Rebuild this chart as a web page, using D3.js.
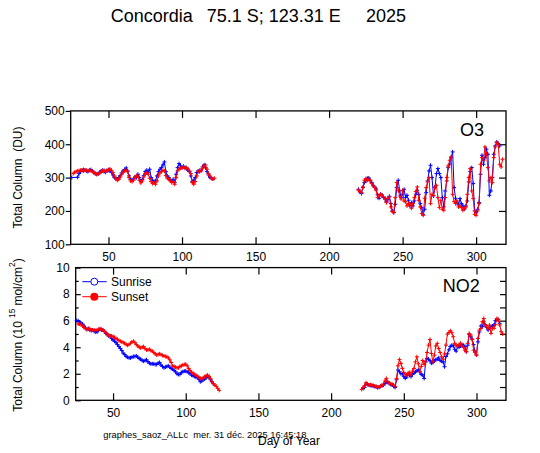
<!DOCTYPE html>
<html>
<head>
<meta charset="utf-8">
<script src="https://cdn.jsdelivr.net/npm/d3@7"></script>
<style>
body { margin: 0; background: #fff; }
text { font-family: Arial, "Liberation Sans", sans-serif; fill: #000; }
</style>
</head>
<body>
<script>
var w = 540;
var h = 453;
var svg;

//-----data------
var xTicks = [50, 100, 150, 200, 250, 300];
var o3Ticks = [100, 200, 300, 400, 500];
var no2Ticks = [0, 2, 4, 6, 8, 10];

var leftDays = [25,26,27,28,29, 30,31,32,33,34, 35,36,37,38,39, 40,41,42,43,44, 45,46,47,48,49,
    50,51,52,53,54, 55,56,57,58,59, 60,61,62,63,64, 65,66,67,68,69, 70,71,72,73,74,
    75,76,77,78,79, 80,81,82,83,84, 85,86,87,88,89, 90,91,92,93,94, 95,96,97,98,99,
    100,101,102,103,104, 105,106,107,108,109, 110,111,112,113,114, 115,116,117,118,119, 120,121,122,123];

var rightDays = [220,221,222,223,224, 225,226,227,228,229, 230,231,232,233,234, 235,236,237,238,239,
    240,241,242,243,244, 245,246,247,248,249, 250,251,252,253,254, 255,256,257,258,259,
    260,261,262,263,264, 265,266,267,268,269, 270,271,272,273,274, 275,276,277,278,279,
    280,281,282,283,284, 285,286,287,288,289, 290,291,292,293,294, 295,296,297,298,299,
    300,301,302,303,304, 305,306,307,308,309, 310,311,312,313,314, 315,316,317,318];

var o3SunriseLeft = [300,null,null,null,301, 312,318,322,324,322, 320,318,322,324,320, 315,312,310,312,316,
    320,322,318,316,322, 322,320,316,308,300, 298,295,300,306,314, 320,324,329,320,305,
    295,292,296,302,300, 310,300,290,294,306, 318,322,316,325,300, 292,288,290,305,318,
    325,330,338,347,318, 305,300,292,290,295, 286,310,330,342,335, 330,334,330,328,322,
    318,305,288,292,300, 315,320,318,322,332, 338,330,318,308,300, 298,296,null,null];

var o3SunsetLeft = [null,312,316,318,320, 321,322,322,320,323, 322,320,322,321,318, 316,312,310,311,313,
    318,320,322,318,320, 324,326,322,315,305, 296,292,295,302,310, 316,320,322,318,300,
    290,288,292,300,306, 304,292,284,290,302, 312,314,310,298,288, 282,284,280,290,305,
    314,318,322,320,306, 298,296,290,285,288, 280,300,320,326,328, 330,332,328,330,326,
    320,312,285,280,288, 305,318,322,320,328, 335,338,325,312,305, 298,296,298,null];

var o3SunriseRight = [265,257,252,270,285, 290,298,299,292,285, 277,272,266,248,238, 250,248,240,238,228,
    235,244,222,200,195, 220,270,292,260,240, 250,265,240,247,232, 215,225,215,230,250,
    262,250,222,210,190, 205,255,290,320,337, 300,245,270,312,327, 312,300,240,212,260,
    290,330,340,360,377, 270,238,225,218,237, 222,215,205,215,230, 287,318,330,282,200,
    195,205,225,310,367, 340,360,385,370,247, 260,300,370,395,407, 402,395,null,null];

var o3SunsetRight = [262,258,255,272,292, 297,292,295,290,282, 275,270,262,240,246, 250,246,242,236,225,
    238,242,212,198,196, 240,285,262,245,236, 262,230,228,215,222, 220,208,222,240,258,
    272,232,212,192,187, 238,270,287,300,222, 250,246,272,276,240, 210,232,205,202,240,
    300,335,352,362,250, 228,222,230,212,215, 210,202,208,212,250, 300,327,260,237,190,
    187,200,222,340,360, 352,392,370,330,290, 300,285,360,392,405, 400,340,332,355];

var no2SunriseLeft = [6.0,6.0,5.9,5.8,5.75, 5.6,5.45,5.35,5.4,5.3, 5.25,5.3,5.2,5.15,5.15, 5.3,5.35,5.3,5.3,5.2,
    5.05,4.95,4.85,4.85,4.65, 4.55,4.45,4.35,4.2,4.05, 3.9,3.75,3.55,3.45,3.3, 3.25,3.2,3.2,3.25,3.3,
    3.3,3.35,3.25,3.15,3.1, 3.0,2.95,3.0,3.05,2.9, 2.8,2.75,2.75,2.75,2.7, 2.7,2.8,2.85,2.65,2.55,
    2.45,2.5,2.55,2.6,2.5, 2.4,2.35,2.25,2.15,2.0, 1.95,1.95,2.1,2.15,2.2, 2.2,2.15,2.1,2.0,1.9,
    1.85,1.8,1.75,1.7,1.6, 1.4,1.45,1.55,1.6,1.7, 1.8,1.75,1.55,1.4,1.25, null,null,null,null];

var no2SunsetLeft = [null,5.75,5.75,5.7,5.6, 5.5,5.4,5.35,5.4,5.4, 5.3,5.3,5.3,5.25,5.3, 5.35,5.4,5.35,5.3,5.2,
    5.1,5.0,4.9,4.85,4.85, 4.8,4.75,4.65,4.6,4.5, 4.45,4.4,4.35,4.3,4.2, 4.15,4.2,4.3,4.4,4.45,
    4.35,4.2,4.1,4.0,3.95, 4.0,4.05,3.9,3.8,3.8, 3.85,3.75,3.7,3.6,3.5, 3.42,3.45,3.5,3.45,3.38,
    3.35,3.3,3.28,3.2,3.05, 2.85,2.6,2.55,2.5,2.45, 2.45,2.55,2.6,2.65,2.7, 2.72,2.6,2.4,2.25,2.1,
    2.05,1.95,1.9,1.8,1.75, 1.65,1.6,1.7,1.78,1.85, 1.9,1.8,1.65,1.4,1.25, 1.15,1.05,0.9,0.75];

var no2SunriseRight = [null,null,0.9,0.97,1.22, 1.2,1.15,1.12,1.1,1.07, 1.05,1.0,0.97,0.98,1.05, 1.1,1.15,1.25,1.4,1.35,
    1.27,1.2,1.15,1.05,0.97, 1.55,2.28,2.15,2.0,2.0, 1.78,1.65,1.75,2.0,1.9, 1.78,1.95,2.05,2.15,2.2,
    2.3,2.15,1.95,1.9,1.65, 2.9,3.15,3.1,2.98,2.8, 2.85,2.98,3.05,3.1,3.2, 3.0,2.95,2.9,2.53,3.3,
    3.5,3.8,4.05,4.15,4.1, 3.85,3.7,4.04,4.0,4.1, 4.2,4.15,4.05,3.66,4.15, 4.95,4.8,4.6,4.2,3.65,
    3.41,4.4,5.15,5.6,5.55, 5.92,5.67,5.5,5.3,5.45, 5.55,5.6,5.67,6.0,6.05, 6.1,5.8,null,null];

var no2SunsetRight = [null,0.82,0.97,1.1,1.32, 1.25,1.15,1.18,1.15,1.12, 1.07,1.05,0.97,1.0,1.07, 1.12,1.22,1.45,1.65,1.4,
    1.27,1.25,1.22,1.15,1.05, 1.65,2.6,3.08,2.78,2.4, 2.1,1.95,1.9,2.05,2.1, 1.9,2.2,2.4,2.9,3.28,
    2.75,2.15,2.55,3.0,2.7, 2.9,3.6,4.16,4.59,3.53, 2.9,3.4,4.09,4.29,3.9, 3.6,3.28,3.1,3.5,4.16,
    4.99,5.1,5.24,5.1,4.79, 4.29,4.16,4.04,4.2,4.3, 4.1,3.99,3.78,3.66,4.29, 5.04,4.92,4.6,3.78,3.6,
    3.41,4.66,5.29,5.42,5.92, 6.17,5.67,5.6,5.42,5.67, 5.04,5.42,5.42,5.7,6.17, 6.05,5.67,5.17,5.0];

var riseColor = "#0000ff";
var setColor = "#ff0000";

drawContent();
function pairs(days, vals){
    var out = [];
    for (var i = 0; i < days.length; i++) {
        if (vals[i] != null) out.push([days[i], vals[i]]);
    }
    return out;
}

function drawSeries(x, y, days, vals, color){
    var pts = pairs(days, vals);
    var line = d3.line()
        .x(function(d){ return x(d[0]); })
        .y(function(d){ return y(d[1]); });
    svg.append("path")
        .datum(pts)
        .attr("d", line)
        .attr("fill", "none")
        .attr("stroke", color)
        .attr("stroke-width", 1);
    svg.append("g")
        .selectAll("path")
        .data(pts)
        .enter()
        .append("path")
        .attr("d", "M-2,0H2M0,-2V2")
        .attr("transform", function(d){ return "translate(" + x(d[0]) + "," + y(d[1]) + ")"; })
        .attr("stroke", color)
        .attr("stroke-width", 1);
}

function styleAxis(g){
    g.select(".domain").remove();
    g.selectAll("line").attr("stroke", "#000").attr("stroke-width", 1.2);
    g.selectAll("text").attr("font-size", 12).attr("font-family", "Arial, 'Liberation Sans', sans-serif").attr("fill", "#000");
}

function drawContent(){
    svg = d3.select("body")
        .append("svg")
        .attr("width", w)
        .attr("height", h);

    svg.append("rect").attr("width", w).attr("height", h).attr("fill", "#fff");

    var xTop = d3.scaleLinear().domain([24.3, 320.3]).range([70.7, 506]);
    var xBot = d3.scaleLinear().domain([24.3, 320.3]).range([75.7, 506]);
    var yTop = d3.scaleLinear().domain([100, 500]).range([244.3, 110.9]);
    var yBot = d3.scaleLinear().domain([0, 10]).range([400.3, 267.6]);

    //-----title------
    var title = svg.append("text")
        .attr("y", 21.7)
        .attr("font-size", 18);
    title.append("tspan").attr("x", 110.7).text("Concordia");
    title.append("tspan").attr("x", 206.7).text("75.1 S; 123.31 E");
    title.append("tspan").attr("x", 366).text("2025");

    //-----top panel axes------
    svg.append("g").attr("transform", "translate(0,244.3)")
        .call(d3.axisBottom(xTop).tickValues(xTicks).tickSizeInner(-7).tickSizeOuter(0).tickPadding(8))
        .call(styleAxis);
    svg.append("g").attr("transform", "translate(0,110.9)")
        .call(d3.axisTop(xTop).tickValues(xTicks).tickSizeInner(-7).tickSizeOuter(0).tickFormat(""))
        .call(styleAxis);
    svg.append("g").attr("transform", "translate(70.7,0)")
        .call(d3.axisLeft(yTop).tickValues(o3Ticks).tickSizeInner(5).tickSizeOuter(0).tickPadding(1))
        .call(styleAxis);
    svg.append("g").attr("transform", "translate(506,0)")
        .call(d3.axisRight(yTop).tickValues([200, 300, 400]).tickSizeInner(-7).tickSizeOuter(0).tickFormat(""))
        .call(styleAxis);

    //-----bottom panel axes------
    svg.append("g").attr("transform", "translate(0,400.3)")
        .call(d3.axisBottom(xBot).tickValues(xTicks).tickSizeInner(-7).tickSizeOuter(0).tickPadding(8))
        .call(styleAxis);
    svg.append("g").attr("transform", "translate(0,267.6)")
        .call(d3.axisTop(xBot).tickValues(xTicks).tickSizeInner(-7).tickSizeOuter(0).tickFormat(""))
        .call(styleAxis);
    svg.append("g").attr("transform", "translate(75.7,0)")
        .call(d3.axisLeft(yBot).tickValues(no2Ticks).tickSizeInner(-5).tickSizeOuter(0).tickPadding(6))
        .call(styleAxis);
    svg.append("g").attr("transform", "translate(75.7,0)")
        .call(d3.axisLeft(yBot).tickValues([1, 3, 5, 7, 9]).tickSizeInner(-3).tickSizeOuter(0).tickFormat(""))
        .call(styleAxis);
    svg.append("g").attr("transform", "translate(506,0)")
        .call(d3.axisRight(yBot).tickValues([1, 2, 3, 4, 5, 6, 7, 8, 9]).tickSizeInner(-6).tickSizeOuter(0).tickFormat(""))
        .call(styleAxis);

    //-----frames------
    svg.append("rect")
        .attr("x", 70.7).attr("y", 110.9)
        .attr("width", 506 - 70.7).attr("height", 244.3 - 110.9)
        .attr("fill", "none").attr("stroke", "#000").attr("stroke-width", 1.3);
    svg.append("rect")
        .attr("x", 75.7).attr("y", 267.6)
        .attr("width", 506 - 75.7).attr("height", 400.3 - 267.6)
        .attr("fill", "none").attr("stroke", "#000").attr("stroke-width", 1.3);

    //-----series------
    drawSeries(xTop, yTop, leftDays, o3SunriseLeft, riseColor);
    drawSeries(xTop, yTop, rightDays, o3SunriseRight, riseColor);
    drawSeries(xTop, yTop, leftDays, o3SunsetLeft, setColor);
    drawSeries(xTop, yTop, rightDays, o3SunsetRight, setColor);

    drawSeries(xBot, yBot, leftDays, no2SunriseLeft, riseColor);
    drawSeries(xBot, yBot, rightDays, no2SunriseRight, riseColor);
    drawSeries(xBot, yBot, leftDays, no2SunsetLeft, setColor);
    drawSeries(xBot, yBot, rightDays, no2SunsetRight, setColor);

    //-----panel labels------
    svg.append("text")
        .text("O3")
        .attr("x", 460)
        .attr("y", 135.7)
        .attr("font-size", 18);
    svg.append("text")
        .text("NO2")
        .attr("x", 442.7)
        .attr("y", 291.7)
        .attr("font-size", 18);

    //-----y titles------
    svg.append("text")
        .text("Total Column  (DU)")
        .attr("xml:space", "preserve")
        .attr("transform", "translate(21.7,177.5) rotate(-90)")
        .attr("text-anchor", "middle")
        .attr("font-size", 12);

    var yt = svg.append("text")
        .attr("transform", "translate(21.7,335) rotate(-90)")
        .attr("text-anchor", "middle")
        .attr("font-size", 12);
    yt.append("tspan").text("Total Column (10");
    yt.append("tspan").attr("dx", 3).attr("dy", -7).attr("font-size", 8.5).text("15");
    yt.append("tspan").attr("dx", 3).attr("dy", 7).text("mol/cm");
    yt.append("tspan").attr("dy", -7).attr("font-size", 8.5).text("2");
    yt.append("tspan").attr("dy", 7).text(")");

    //-----legend------
    svg.append("line")
        .attr("x1", 82.3).attr("x2", 106.7).attr("y1", 281.7).attr("y2", 281.7)
        .attr("stroke", riseColor).attr("stroke-width", 1);
    svg.append("circle")
        .attr("cx", 94.3).attr("cy", 281.7).attr("r", 3.5)
        .attr("fill", "#fff").attr("stroke", riseColor).attr("stroke-width", 1);
    svg.append("text")
        .text("Sunrise")
        .attr("x", 111).attr("y", 281.7).attr("dy", "0.36em")
        .attr("font-size", 12);

    svg.append("line")
        .attr("x1", 82.3).attr("x2", 106.7).attr("y1", 296.7).attr("y2", 296.7)
        .attr("stroke", setColor).attr("stroke-width", 1);
    svg.append("circle")
        .attr("cx", 94.3).attr("cy", 296.7).attr("r", 4)
        .attr("fill", setColor);
    svg.append("text")
        .text("Sunset")
        .attr("x", 111).attr("y", 296.7).attr("dy", "0.36em")
        .attr("font-size", 12);

    //-----footer------
    svg.append("text")
        .text("graphes_saoz_ALLc  mer. 31 déc. 2025 16:45:18")
        .attr("xml:space", "preserve")
        .attr("x", 103.3)
        .attr("y", 437.5)
        .attr("font-size", 9.3);
    svg.append("text")
        .text("Day of Year")
        .attr("x", 289)
        .attr("y", 444.5)
        .attr("text-anchor", "middle")
        .attr("font-size", 12);
}
</script>
</body>
</html>
